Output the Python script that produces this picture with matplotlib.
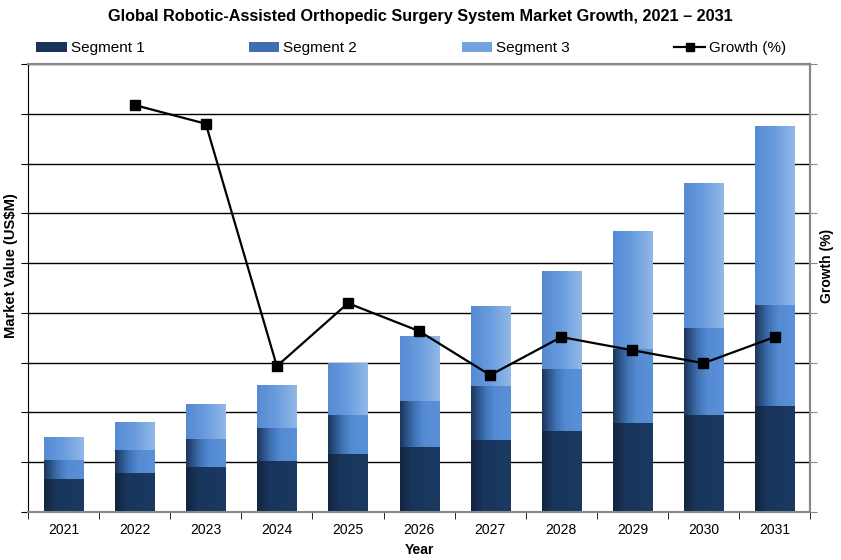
import matplotlib.pyplot as plt
import numpy as np
from matplotlib.colors import LinearSegmentedColormap
from matplotlib.patches import Patch
from matplotlib.lines import Line2D

plt.rcParams['font.family'] = ['Liberation Sans', 'DejaVu Sans']

years = ['2021', '2022', '2023', '2024', '2025', '2026', '2027', '2028', '2029', '2030', '2031']
seg1 = [0.66, 0.78, 0.90, 1.02, 1.16, 1.31, 1.45, 1.63, 1.79, 1.95, 2.13]
seg2 = [0.38, 0.46, 0.56, 0.66, 0.78, 0.92, 1.08, 1.24, 1.49, 1.75, 2.03]
seg3 = [0.46, 0.56, 0.70, 0.86, 1.04, 1.29, 1.59, 1.95, 2.37, 2.91, 3.59]
growth_years = ['2022', '2023', '2024', '2025', '2026', '2027', '2028', '2029', '2030', '2031']
growth = [16.35, 15.6, 5.86, 8.39, 7.27, 5.5, 7.03, 6.5, 5.98, 7.03]

# horizontal gradients, dark on the left edge
cmaps = [
    LinearSegmentedColormap.from_list('s1', [(0, '#12243f'), (0.3, '#18355b'), (1, '#1b3a62')]),
    LinearSegmentedColormap.from_list('s2', [(0, '#1c365c'), (0.35, '#3f72b4'), (0.6, '#548bd3'), (1, '#5a90d8')]),
    LinearSegmentedColormap.from_list('s3', [(0, '#5589d2'), (0.5, '#6a9ddf'), (1, '#92b8e6')]),
]
legend_cols = ['#18345a', '#3e6fb0', '#74a3e0']

fig = plt.figure(figsize=(8.41, 5.6), dpi=100)
ax = fig.add_axes([0.0333, 0.0857, 0.930, 0.800])

x = np.arange(len(years))
w = 0.55
grad = np.linspace(0, 1, 64).reshape(1, -1)
bottom = np.zeros(len(years))
for vals, cm in zip([seg1, seg2, seg3], cmaps):
    for i, v in enumerate(vals):
        ax.imshow(grad, extent=[x[i] - w / 2, x[i] + w / 2, bottom[i], bottom[i] + v],
                  aspect='auto', cmap=cm, zorder=2, interpolation='bilinear')
    bottom += np.array(vals)

ax.set_xlim(-0.5, len(years) - 0.5)
ax.set_ylim(0, 9)
ax.set_yticks(np.arange(0, 10, 1))
ax.set_yticklabels([])
ax.yaxis.grid(True, color='black', linewidth=1.0)
ax.set_axisbelow(True)
ax.set_xticks(x)
ax.set_xticklabels(years, fontsize=10)
ax.set_xticks(np.arange(-0.5, len(years), 1), minor=True)
ax.tick_params(axis='x', which='major', length=0, pad=8)
ax.tick_params(axis='x', which='minor', length=5, color='black')
ax.tick_params(axis='y', length=5, color='black')
ax.spines['left'].set_color('black')
for s in ['top', 'bottom', 'right']:
    ax.spines[s].set_color('#888888')
    ax.spines[s].set_linewidth(1.5)
ax.set_xlabel('Year', fontsize=10, fontweight='bold', labelpad=4)
ax.set_ylabel('Market Value (US$M)', fontsize=10.6, fontweight='bold')
ax.yaxis.set_label_coords(-0.013, 0.55)

ax2 = ax.twinx()
ax2.set_ylim(0, 18)
ax2.set_yticks(np.arange(0, 19, 2))
ax2.set_yticklabels([])
ax2.tick_params(axis='y', length=5, color='#888888')
ax2.spines['right'].set_color('#888888')
ax2.spines['right'].set_linewidth(1.5)
ax2.spines['top'].set_visible(False)
ax2.spines['left'].set_visible(False)
ax2.spines['bottom'].set_visible(False)
gx = [years.index(y) for y in growth_years]
ax2.plot(gx, growth, color='black', linewidth=1.6, marker='s', markersize=7)
ax2.set_ylabel('Growth (%)', fontsize=10, fontweight='bold')
ax2.yaxis.set_label_coords(1.012, 0.55)

fig.text(0.5, 0.970, 'Global Robotic-Assisted Orthopedic Surgery System Market Growth, 2021 \u2013 2031',
         fontsize=11.7, fontweight='bold', ha='center', va='center')

handles = [Patch(facecolor=c, edgecolor='none') for c in legend_cols]
handles.append(Line2D([0], [0], color='black', marker='s', markersize=6, linewidth=1.6))
fig.legend(handles, ['Segment 1', 'Segment 2', 'Segment 3', 'Growth (%)'],
           loc='center left', bbox_to_anchor=(0.043, 0.914),
           ncol=4, frameon=False, fontsize=11, handlelength=2.0, handleheight=0.65,
           handletextpad=0.25, columnspacing=6.85, borderpad=0, borderaxespad=0)

fig.savefig('out.png', dpi=100)
